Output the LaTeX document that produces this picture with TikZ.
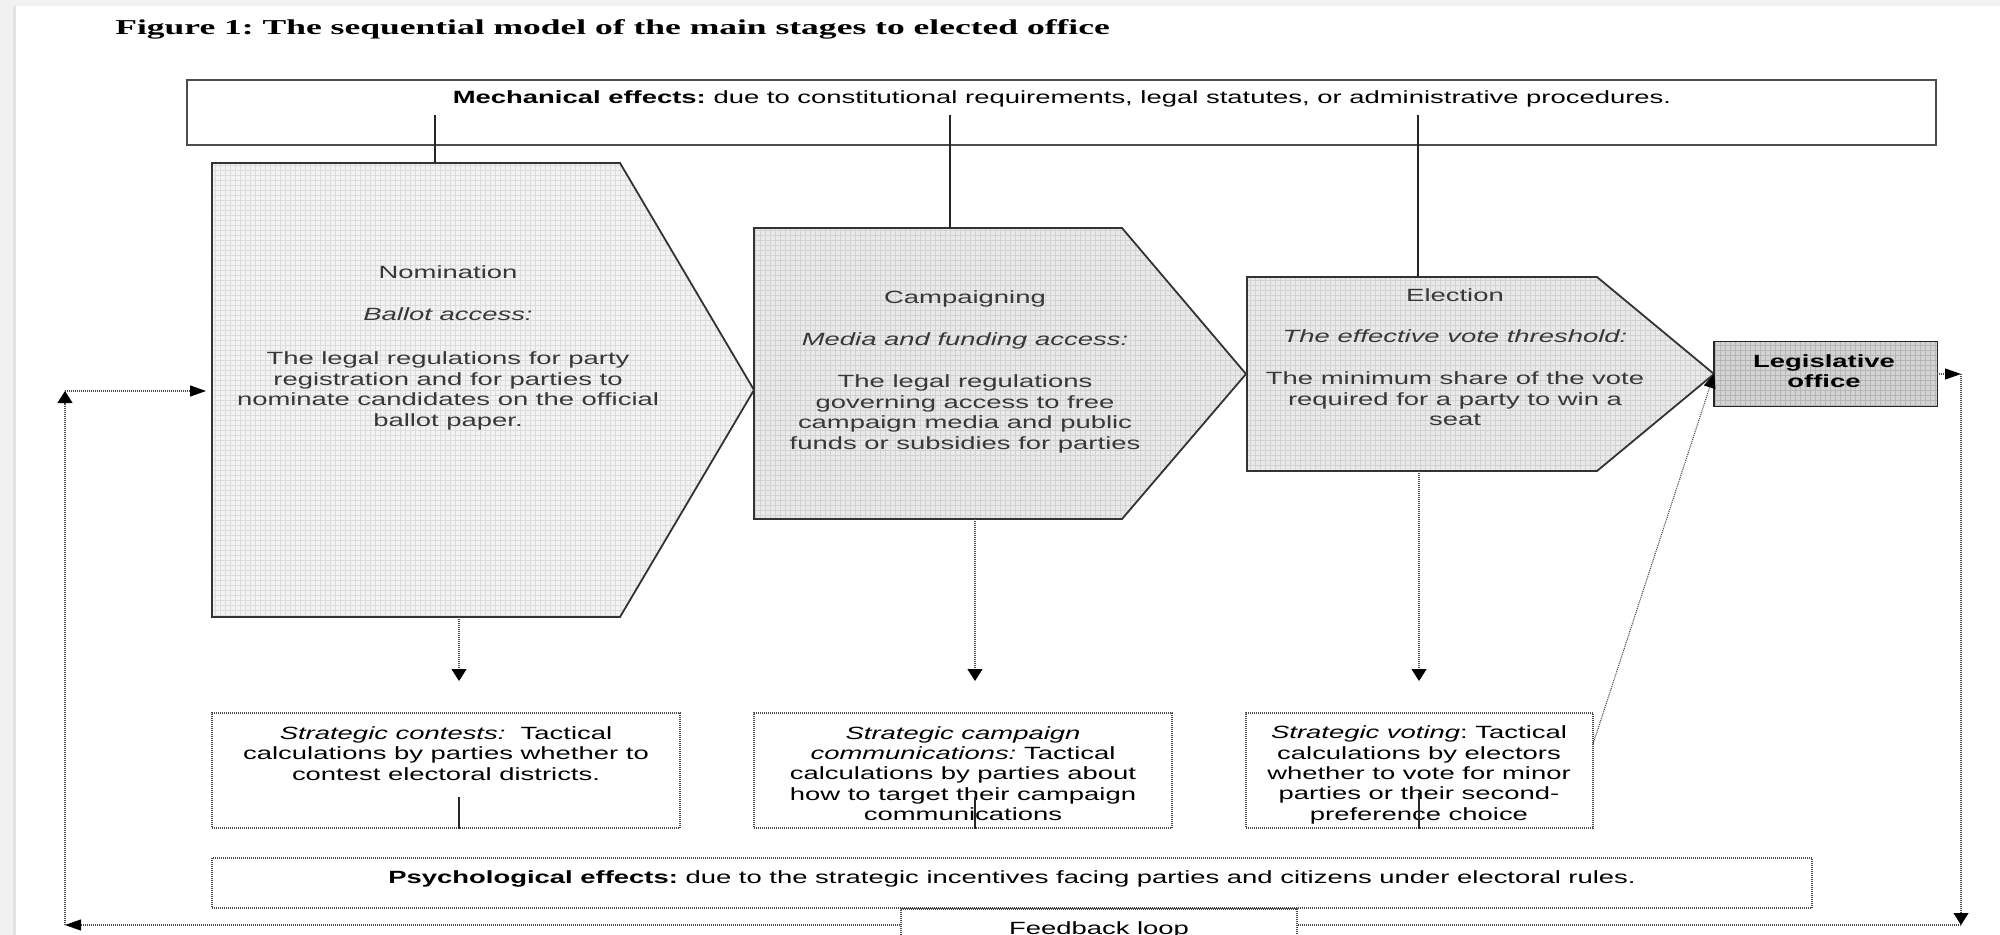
\documentclass[tikz,border=0pt]{standalone}
\usepackage{fontspec}
\setmainfont{Liberation Sans}[FakeStretch=1.55]
\newfontfamily\titlefont{Liberation Serif}[FakeStretch=1.675]
\usetikzlibrary{arrows.meta,fit}
\definecolor{nomfill}{HTML}{F3F3F3}
\definecolor{nomgrid}{HTML}{DCDCDC}
\definecolor{camfill}{HTML}{E9E9E9}
\definecolor{camgrid}{HTML}{D2D2D2}
\definecolor{legfill}{HTML}{D3D3D3}
\definecolor{leggrid}{HTML}{B6B6B6}
\definecolor{dotcol}{HTML}{4A4A4A}
\definecolor{pageedge}{HTML}{F1F1F1}
\tikzset{
  shapeline/.style={draw=black!80, line width=0.9pt, line join=miter},
  solidline/.style={draw=black!85, line width=0.7pt},
  dotline/.style={draw=dotcol, line width=0.55pt, dash pattern=on 0.5pt off 0.5pt},
  varrow/.style={dotline, -{Triangle[length=6pt,width=7.5pt,color=black]}},
  harrow/.style={dotline, -{Triangle[length=8pt,width=5.5pt,color=black]}},
  darrow/.style={dotline, -{Triangle[length=7pt,width=6pt,color=black]}},
  dotbox/.style={dotline, inner sep=0pt},
  txt/.style={inner sep=0pt, align=center, font=\fontsize{8.85}{10.2}\selectfont},
  stagetxt/.style={txt, text=black!78},
  gridlines/.style={line width=0.25pt, step=2.5pt},
}
\frenchspacing
\begin{document}
\begin{tikzpicture}[x=0.5pt, y=-0.5pt]
\useasboundingbox (0,0) rectangle (2000,935);
\clip (0,0) rectangle (2000,935);
% page background
\fill[white] (0,0) rectangle (2000,935);
\fill[pageedge] (0,0) rectangle (2000,6);
\fill[pageedge] (0,0) rectangle (14,935);
\fill[black!11] (13,6) rectangle (16,935);

% title
\node[anchor=base west, inner sep=0pt, font=\titlefont\bfseries\fontsize{10.6}{12}\selectfont] (title) at (115,35)
  {Figure 1: The sequential model of the main stages to elected office};

% mechanical effects box
\node[fit={(187,80) (1936,145.5)}, inner sep=0pt, draw=black!70, line width=1pt] (mech) {};
\node[txt, anchor=base] (mechtxt) at (1062,104)
  {\textbf{Mechanical effects:} due to constitutional requirements, legal statutes, or administrative procedures.};

% ---- Nomination pentagon
\coordinate (nomNW) at (212,163);
\coordinate (nomNE) at (620,163);
\coordinate (nomTip) at (754,390);
\coordinate (nomSE) at (620,617);
\coordinate (nomSW) at (212,617);
\begin{scope}
  \clip (nomNW) -- (nomNE) -- (nomTip) -- (nomSE) -- (nomSW) -- cycle;
  \fill[nomfill] (212,617) rectangle (754,163);
  \draw[nomgrid, gridlines] (212,617) grid (754,163);
\end{scope}
\draw[shapeline] (nomNW) -- (nomNE) -- (nomTip) -- (nomSE) -- (nomSW) -- cycle;
\node[stagetxt] (nomtxt) at (448,348)
  {Nomination\\[10.6pt]\textit{Ballot access:}\\[12pt]The legal regulations for party\\registration and for parties to\\nominate candidates on the official\\ballot paper.};

% ---- Campaigning pentagon
\coordinate (camNW) at (754,228);
\coordinate (camNE) at (1122,228);
\coordinate (camTip) at (1246,374);
\coordinate (camSE) at (1122,519);
\coordinate (camSW) at (754,519);
\begin{scope}
  \clip (camNW) -- (camNE) -- (camTip) -- (camSE) -- (camSW) -- cycle;
  \fill[camfill] (754,519) rectangle (1246,228);
  \draw[camgrid, gridlines] (754,519) grid (1246,228);
\end{scope}
\draw[shapeline] (camNW) -- (camNE) -- (camTip) -- (camSE) -- (camSW) -- cycle;
\node[stagetxt] (camtxt) at (965,372)
  {Campaigning\\[10.8pt]\textit{Media and funding access:}\\[10.8pt]The legal regulations\\governing access to free\\campaign media and public\\funds or subsidies for parties};

% ---- Election pentagon
\coordinate (eleNW) at (1247,277);
\coordinate (eleNE) at (1597,277);
\coordinate (eleTip) at (1714,374);
\coordinate (eleSE) at (1597,471);
\coordinate (eleSW) at (1247,471);
\begin{scope}
  \clip (eleNW) -- (eleNE) -- (eleTip) -- (eleSE) -- (eleSW) -- cycle;
  \fill[camfill] (1247,471) rectangle (1714,277);
  \draw[camgrid, gridlines] (1247,471) grid (1714,277);
\end{scope}
\draw[shapeline] (eleNW) -- (eleNE) -- (eleTip) -- (eleSE) -- (eleSW) -- cycle;
\node[stagetxt] (eletxt) at (1455,357)
  {Election\\[10.6pt]\textit{The effective vote threshold:}\\[10.8pt]The minimum share of the vote\\required for a party to win a\\seat};

% ---- Legislative office
\node[fit={(1714,342) (1937,406)}, inner sep=0pt] (leg) {};
\begin{scope}
  \clip (leg.south west) rectangle (leg.north east);
  \fill[legfill] (leg.south west) rectangle (leg.north east);
  \draw[leggrid, gridlines] (leg.south west) grid (leg.north east);
\end{scope}
\draw[shapeline, draw=black!85] (leg.south west) rectangle (leg.north east);
\node[txt, text=black] (legtxt) at (1824,371) {\textbf{Legislative}\\\textbf{office}};

% ---- mechanical connectors
\coordinate (m1) at (435,115);
\coordinate (m2) at (950,115);
\coordinate (m3) at (1418,115);
\draw[solidline] (m1) -- (m1 |- nomNW);
\draw[solidline] (m2) -- (m2 |- camNW);
\draw[solidline] (m3) -- (m3 |- eleNW);

% ---- strategic boxes
\node[dotbox, draw, fit={(212,713) (680,828)}] (contbox) {};
\node[dotbox, draw, fit={(754,713) (1172,828)}] (commbox) {};
\node[dotbox, draw, fit={(1246,713) (1593,828)}] (votebox) {};
\node[txt] (conttxt) at (446,753.5)
  {\textit{Strategic contests:}\ \ Tactical\\calculations by parties whether to\\contest electoral districts.};
\node[txt] (commtxt) at (963,773.5)
  {\textit{Strategic campaign}\\\textit{communications:} Tactical\\calculations by parties about\\how to target their campaign\\communications};
\node[txt] (votetxt) at (1419,775)
  {\textit{Strategic voting}: Tactical\\calculations by electors\\whether to vote for minor\\parties or their second-\\preference choice};

% ---- down arrows from stages
\coordinate (d1) at (459,617);
\coordinate (d2) at (975,519);
\coordinate (d3) at (1419,471);
\draw[varrow] (d1) -- (d1 |- 0,681);
\draw[varrow] (d2) -- (d2 |- 0,681);
\draw[varrow] (d3) -- (d3 |- 0,681);

% ---- solid stubs in strategic boxes
\coordinate (s1) at (459,797);
\coordinate (s2) at (975,797);
\coordinate (s3) at (1419,793);
\draw[solidline] (s1) -- (s1 |- contbox.south);
\draw[solidline] (s2) -- (s2 |- commbox.south);
\draw[solidline] (s3) -- (s3 |- votebox.south);

% ---- strategic voting to legislative office
\coordinate (voteOut) at (1593,744);
\draw[darrow] (voteOut) -- (eleTip);

% ---- psychological and feedback boxes
\node[dotbox, draw, fit={(212,858) (1812,908)}] (psych) {};
\node[txt, anchor=center] (psychtxt) at (1012,879)
  {\textbf{Psychological effects:} due to the strategic incentives facing parties and citizens under electoral rules.};
\node[dotbox, draw, fit={(901,909) (1297,960)}] (feed) {};
\node[txt] (feedtxt) at (1099,929.5) {Feedback loop};

% ---- feedback loop
\coordinate (fbLeft) at (65,925);
\coordinate (fbUp) at (65,391);
\coordinate (legOut) at (1961,374);
\coordinate (fbRight) at (1961,925);
\draw[harrow] (feed.west |- fbLeft) -- (fbLeft);
\draw[varrow] (fbLeft) -- (fbUp);
\draw[harrow] (fbUp) -- ([xshift=-3pt]nomNW |- fbUp);
\draw[harrow] (leg.east) -- (legOut);
\draw[varrow] (legOut) -- (fbRight);
\draw[dotline] (fbRight) -- (feed.east |- fbRight);
\end{tikzpicture}
\end{document}
